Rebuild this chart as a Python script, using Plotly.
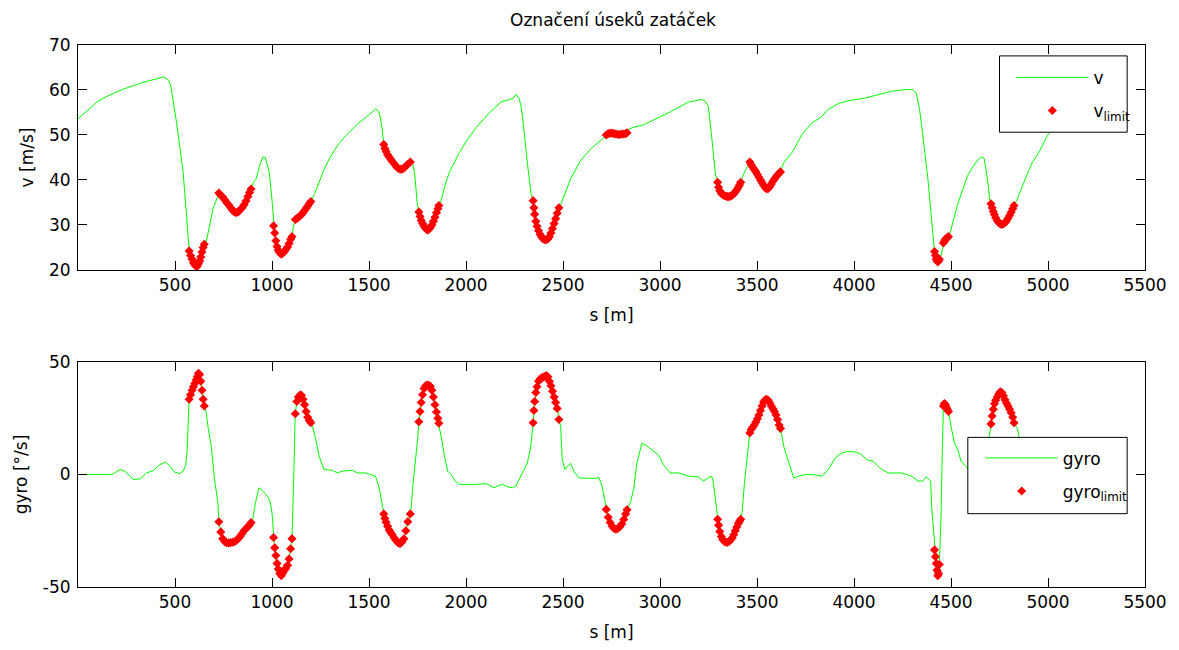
import plotly.graph_objects as go

# ---------------- data ----------------
# distance samples [m] and speed [m/s] for the green v line (outside limit segments)
s_v_line = [0, 50, 97, 149, 234, 337, 400, 440, 465, 477, 508, 542, 565,
            661, 696, 713,
            905, 918, 935, 952, 965, 975, 986, 1000,
            1110,
            1220, 1243, 1270, 1294, 1335, 1379, 1448, 1500, 1535, 1550, 1560, 1568,
            1721, 1735, 1748,
            1872, 1890, 1914, 1966, 2000, 2051, 2120, 2180, 2222, 2245, 2257, 2274, 2283, 2291, 2316, 2335,
            2490, 2539, 2590, 2650, 2700,
            2838, 2870, 2907, 2975, 3061, 3146, 3215, 3232, 3249, 3266, 3285,
            3428, 3450,
            3638, 3681, 3732, 3783, 3826, 3868, 3920, 3971, 4056, 4125, 4193, 4261, 4304, 4321, 4338,
            4355, 4381, 4398, 4408,
            4449,
            4492, 4535, 4586, 4629, 4654, 4671, 4688, 4700,
            4842, 4876, 4919, 4953, 4996, 5022, 5040]
v_line = [53.6, 55.6, 57.3, 58.6, 60.2, 61.7, 62.4, 62.9, 62.3, 61.2, 52.7, 41.7, 29.0,
          26.2, 33.6, 35.5,
          39.5, 40.2, 43.0, 45.1, 45.0, 43.5, 41.7, 35.5,
          29.5,
          37.0, 39.5, 42.5, 44.6, 47.5, 49.8, 52.7, 54.5, 55.8, 55.3, 53.5, 51.3,
          44.3, 41.7, 35.0,
          35.4, 38.5, 41.7, 46.1, 48.5, 51.6, 54.9, 57.3, 57.9, 58.2, 59.0, 58.1, 56.5, 54.2, 43.9, 37.0,
          34.7, 40.2, 44.3, 47.2, 49.0,
          51.3, 51.8, 52.1, 53.5, 55.3, 57.3, 57.9, 57.6, 56.4, 49.8, 41.5,
          41.0, 43.0,
          43.9, 46.1, 50.1, 52.7, 53.8, 55.7, 57.0, 57.6, 58.2, 59.0, 59.7, 60.1, 60.1, 59.3, 55.7,
          49.8, 40.2, 32.1, 26.5,
          23.3,
          27.7, 34.7, 41.0, 44.0, 45.1, 44.8, 40.2, 35.5,
          35.8, 39.5, 43.9, 46.1, 49.8, 51.3, 52.5]

# distance samples [m] and yaw rate [deg/s] for the green gyro line (outside limit segments)
s_g_line = [0, 60, 120, 174, 183, 217, 243, 265, 285, 320, 354, 388, 422, 451, 474, 499, 525, 542,
            555, 562, 567,
            661, 670, 687, 704, 721,
            901, 915, 932, 944, 969, 990, 1000,
            1106, 1109, 1112, 1115, 1117,
            1209, 1226, 1243, 1268, 1311, 1337, 1362, 1414, 1439, 1482, 1533, 1550, 1562, 1568,
            1718, 1726, 1735, 1744, 1752,
            1867, 1878, 1889, 1906, 1923, 1945, 1966, 2051, 2103, 2125, 2145, 2170, 2188, 2215, 2239,
            2257, 2291, 2316, 2334, 2341,
            2488, 2496, 2510, 2522, 2539, 2556, 2582, 2620, 2667, 2684, 2701, 2718,
            2847, 2864, 2881, 2907, 2924, 2958, 2992, 3018, 3052, 3095, 3146, 3197, 3223, 3249, 3266,
            3274, 3286,
            3423, 3437, 3451, 3458,
            3638, 3663, 3689, 3715, 3749, 3783, 3834, 3868, 3903, 3937, 3971, 4014, 4039, 4065, 4099,
            4133, 4176, 4244, 4296, 4330, 4355, 4372, 4395, 4401, 4410,
            4446, 4449, 4455,
            4500, 4518, 4535, 4552, 4577, 4603, 4620, 4650, 4680, 4697,
            4842, 4851, 4880, 4920, 4970, 5040]
g_line = [0, 0, -0.3, 0, 0.4, 2.2, 1.5, -0.5, -2.2, -1.9, 0.7, 1.8, 4.4, 5.6, 3.7, 1.0, 0.4, 1.5,
          4.0, 10.0, 22.0,
          27.5, 21.3, 12.5, -2.2, -12.5,
          -19.9, -12.5, -5.9, -6.6, -8.8, -11.8, -17.0,
          -20.0, -12.5, 0.0, 8.1, 18.0,
          21.3, 15.4, 8.1, 2.2, 1.9, 0.7, 1.5, 1.9, 0.7, 0.7, -0.7, -5.1, -11.0, -14.0,
          -14.0, -5.0, 2.2, 10.0, 16.9,
          19.9, 14.0, 8.1, 1.5, 0.0, -3.0, -4.4, -4.4, -4.0, -5.0, -5.9, -4.8, -4.4, -5.5, -5.9,
          -5.1, 0.7, 5.1, 12.5, 18.0,
          21.3, 6.6, 2.2, 3.7, 4.9, 1.5, -1.5, -1.6, -1.8, -1.2, -5.1, -12.5,
          -12.5, -6.6, 5.1, 14.0, 13.2, 11.0, 8.8, 4.4, 0.7, 0.7, -0.7, -1.0, -2.9, -1.5, -0.7,
          -2.9, -12.5,
          -16.9, -2.2, 8.1, 14.0,
          12.5, 5.1, -1.5, -0.7, 0.0, 0.0, -0.7, 2.2, 7.4, 9.6, 10.3, 9.9, 8.8, 6.6, 5.9,
          2.9, 0.7, 0.7, -0.7, -2.9, -2.9, -1.0, -2.9, -15.4, -25.0,
          -25.0, -16.9, 10.0,
          21.3, 14.0, 11.0, 5.9, 3.7, 0.7, -1.5, -4.0, 5.0, 17.0,
          20.6, 16.9, 8.0, 2.0, 0.0, -1.0]

# samples marked as curve sections (limit points): distance, speed, yaw rate
s_limit = [573, 580, 588, 595, 602, 609, 615, 621, 627, 633, 639, 645, 651,
           726, 736, 746, 756, 766, 776, 786, 796, 806, 816, 826, 836, 846, 856, 866, 876, 884, 892,
           1008, 1014, 1020, 1026, 1032, 1040, 1048, 1056, 1064, 1072, 1080, 1088, 1096, 1103,
           1120, 1128, 1136, 1144, 1152, 1160, 1168, 1176, 1184, 1192, 1200,
           1576, 1582, 1588, 1596, 1604, 1612, 1620, 1630, 1640, 1650, 1660, 1670, 1680, 1690, 1700, 1713,
           1757, 1763, 1769, 1776, 1784, 1792, 1800, 1808, 1816, 1824, 1832, 1840, 1848, 1855, 1860,
           2346, 2350, 2354, 2360, 2366, 2374, 2382, 2390, 2398, 2406, 2414, 2422, 2430, 2438, 2446,
           2454, 2462, 2470, 2479,
           2723, 2733, 2743, 2753, 2763, 2773, 2783, 2793, 2803, 2813, 2823, 2830,
           3297, 3302, 3308, 3316, 3324, 3332, 3340, 3348, 3356, 3364, 3372, 3380, 3388, 3396, 3404,
           3410, 3416,
           3463, 3470, 3478, 3486, 3494, 3502, 3510, 3518, 3526, 3534, 3542, 3550, 3558, 3566, 3574,
           3582, 3590, 3598, 3606, 3614, 3621,
           4415, 4420, 4424, 4428, 4432, 4436, 4440,
           4461, 4466, 4471, 4476, 4481, 4487,
           4706, 4712, 4718, 4724, 4730, 4738, 4746, 4754, 4762, 4770, 4778, 4786, 4794, 4802, 4810,
           4818, 4825]
v_limit = [24.2, 23.2, 22.4, 21.6, 21.1, 20.8, 20.8, 21.4, 22.0, 22.9, 24.0, 25.0, 25.7,
           37.1, 36.6, 36.2, 35.6, 35.0, 34.5, 33.9, 33.3, 32.9, 32.7, 32.9, 33.4, 33.8, 34.5, 35.3,
           36.3, 37.2, 38.0,
           29.8, 28.2, 26.5, 25.2, 24.4, 23.8, 23.5, 23.7, 24.1, 24.6, 25.1, 25.9, 26.8, 27.4,
           31.2, 31.4, 31.7, 32.0, 32.3, 32.7, 33.2, 33.7, 34.2, 34.7, 35.2,
           47.9, 47.0, 46.3, 45.6, 45.1, 44.6, 44.1, 43.6, 43.0, 42.6, 42.4, 42.4, 42.6, 43.1, 43.5, 44.0,
           32.9, 31.9, 31.0, 30.3, 29.7, 29.2, 28.9, 29.0, 29.4, 30.0, 30.8, 31.7, 32.7, 33.6, 34.3,
           35.4, 33.8, 32.4, 30.8, 29.7, 28.7, 27.9, 27.3, 26.9, 26.7, 26.7, 26.9, 27.4, 28.2, 29.2,
           30.3, 31.4, 32.6, 33.8,
           50.0, 50.3, 50.4, 50.4, 50.3, 50.2, 50.1, 50.1, 50.2, 50.2, 50.3, 50.5,
           39.5, 38.4, 37.6, 37.0, 36.7, 36.5, 36.4, 36.3, 36.3, 36.4, 36.6, 36.9, 37.3, 37.8, 38.4,
           38.9, 39.5,
           44.0, 43.4, 42.8, 42.3, 41.8, 41.2, 40.6, 40.0, 39.4, 38.8, 38.3, 38.0, 38.1, 38.5, 39.1,
           39.7, 40.2, 40.7, 41.1, 41.5, 41.8,
           24.1, 23.2, 22.4, 22.0, 21.8, 22.0, 22.4,
           26.0, 26.4, 26.8, 27.0, 27.2, 27.4,
           34.7, 33.8, 33.0, 32.3, 31.6, 31.0, 30.5, 30.2, 30.1, 30.2, 30.5, 30.9, 31.5, 32.1, 32.8,
           33.6, 34.3]
g_limit = [33.5, 35.5, 37.5, 39.0, 40.5, 42.0, 43.5, 45.0, 44.5, 41.5, 37.5, 33.5, 30.5,
           -21.0, -25.5, -28.5, -29.8, -30.3, -30.4, -30.3, -30.1, -29.9, -29.3, -28.5, -27.4, -26.2,
           -25.0, -24.0, -23.2, -22.4, -21.3,
           -28.0, -32.5, -36.0, -39.5, -42.0, -44.0, -45.0, -43.8, -42.5, -41.5, -40.3, -37.5, -33.0, -28.5,
           27.0, 32.5, 34.5, 35.3, 35.2, 33.5, 31.0, 28.0, 25.5, 24.0, 23.0,
           -17.5, -19.5, -21.2, -23.0, -24.7, -25.8, -26.8, -28.2, -29.3, -30.3, -30.8, -30.0, -28.6,
           -25.0, -21.0, -17.5,
           23.5, 28.0, 32.0, 35.5, 38.3, 39.5, 39.8, 39.7, 39.2, 37.5, 34.5, 31.0, 27.8, 25.0, 22.8,
           23.0, 28.5, 32.5, 36.5, 39.0, 41.5, 42.5, 43.0, 43.3, 43.6, 44.0, 43.5, 41.5, 39.5, 37.0,
           34.5, 32.0, 29.4, 24.5,
           -15.5, -19.0, -21.3, -23.0, -24.0, -24.3, -24.0, -23.2, -22.0, -20.0, -17.5, -15.7,
           -19.9, -22.5, -25.3, -27.5, -29.0, -29.8, -30.1, -30.1, -29.8, -29.1, -28.2, -26.8, -25.0,
           -23.3, -21.8, -20.8, -19.9,
           18.5, 20.0, 21.0, 22.0, 23.3, 24.8, 26.5, 28.5, 30.5, 32.3, 33.2, 33.5, 33.0, 31.8, 30.5,
           29.3, 28.0, 26.5, 24.5, 22.0, 20.5,
           -33.5, -36.5, -39.5, -42.5, -45.0, -44.0, -40.0,
           30.5, 31.6, 31.0, 30.0, 29.0, 28.0,
           22.5, 26.0, 29.0, 31.5, 33.0, 34.5, 35.8, 36.8, 36.5, 35.0, 33.3, 31.8, 30.5, 29.0, 27.5,
           25.5, 23.0]

x_ticks = [500, 1000, 1500, 2000, 2500, 3000, 3500, 4000, 4500, 5000, 5500]
v_ticks = [20, 30, 40, 50, 60, 70]
g_ticks = [-50, 0, 50]
g_tick_labels = ["-50", "0", "50"]

TITLE = "Označení úseků zatáček"

# ---------------- build full curves (line passes through limit samples) ----------------
def merged(s_a, y_a, s_b, y_b):
    pairs = sorted(zip(list(s_a) + list(s_b), list(y_a) + list(y_b)))
    return [p[0] for p in pairs], [p[1] for p in pairs]

s_v_all, v_all = merged(s_v_line, v_line, s_limit, v_limit)
s_g_all, g_all = merged(s_g_line, g_line, s_limit, g_limit)

FONT = "DejaVu Sans"
GREEN = "#00ff00"
RED = "#ff0000"

fig = go.Figure()
fig.add_trace(go.Scatter(x=s_v_all, y=v_all, mode="lines", name="v",
                         line=dict(color=GREEN, width=1), xaxis="x", yaxis="y",
                         legend="legend", legendgroup="a"))
fig.add_trace(go.Scatter(x=s_limit, y=v_limit, mode="markers", name="v<sub>limit</sub>",
                         marker=dict(color=RED, symbol="diamond", size=7, line=dict(width=0)),
                         xaxis="x", yaxis="y", legend="legend", legendgroup="b"))
fig.add_trace(go.Scatter(x=s_g_all, y=g_all, mode="lines", name="gyro",
                         line=dict(color=GREEN, width=1), xaxis="x2", yaxis="y2",
                         legend="legend2", legendgroup="c"))
fig.add_trace(go.Scatter(x=s_limit, y=g_limit, mode="markers", name="gyro<sub>limit</sub>",
                         marker=dict(color=RED, symbol="diamond", size=7, line=dict(width=0)),
                         xaxis="x2", yaxis="y2", legend="legend2", legendgroup="d"))

# page has an 8 px body margin: figure starts at page (8, 8)
OFF = 8
W, H = 1179 - OFF, 650 - OFF
L, R, T = 78 - OFF, 1179 - OFF - 1148, 45 - OFF
B = H - (592 - OFF)
pw, ph = W - L - R, H - T - B


def px2paper_x(px):
    return (px - OFF - L) / pw


def px2paper_y(py):
    return (H - B - (py - OFF)) / ph


axis_common = dict(showline=True, linecolor="black", linewidth=1, mirror="ticks",
                   ticks="inside", ticklen=9, tickcolor="black", tickwidth=1,
                   showgrid=False, zeroline=False,
                   tickfont=dict(family=FONT, size=17, color="black"),
                   title_font=dict(family=FONT, size=17, color="black"))

top_dom = [px2paper_y(272), 1.0]
bot_dom = [0.0, px2paper_y(365)]

fig.update_layout(
    width=W, height=H,
    margin=dict(l=L, r=R, t=T, b=B),
    paper_bgcolor="white", plot_bgcolor="white",
    font=dict(family=FONT, size=17, color="black"),
    title=dict(text=TITLE, x=(613 - OFF) / W, xanchor="center",
               y=1 - (20 - OFF) / H, yanchor="middle",
               font=dict(family=FONT, size=17, color="black")),
    xaxis=dict(domain=[0, 1], range=[0, 5500], tickvals=x_ticks, anchor="y",
               title=dict(text="s [m]", standoff=14), **axis_common),
    yaxis=dict(domain=top_dom, range=[20, 70], tickvals=v_ticks, anchor="x",
               ticklabelstandoff=3,
               title=dict(text="v [m/s]", standoff=10), **axis_common),
    xaxis2=dict(domain=[0, 1], range=[0, 5500], tickvals=x_ticks, anchor="y2",
                title=dict(text="s [m]", standoff=14), **axis_common),
    yaxis2=dict(domain=bot_dom, range=[-50, 50], tickvals=g_ticks, ticktext=g_tick_labels,
                anchor="x2", ticklabelstandoff=3,
                title=dict(text="gyro [°/s]", standoff=10), **axis_common),
    legend=dict(x=px2paper_x(1021), y=px2paper_y(60), xanchor="left", yanchor="top",
                bgcolor="rgba(0,0,0,0)", borderwidth=0, itemwidth=72,
                traceorder="grouped", tracegroupgap=8,
                font=dict(family=FONT, size=17, color="black")),
    legend2=dict(x=px2paper_x(990), y=px2paper_y(444), xanchor="left", yanchor="top",
                 bgcolor="rgba(0,0,0,0)", borderwidth=0, itemwidth=72,
                 traceorder="grouped", tracegroupgap=8,
                 font=dict(family=FONT, size=17, color="black")),
    shapes=[
        dict(type="rect", xref="paper", yref="paper", layer="above",
             x0=px2paper_x(1009), x1=px2paper_x(1138), y0=px2paper_y(133), y1=px2paper_y(56),
             line=dict(color="black", width=1), fillcolor="white"),
        dict(type="rect", xref="paper", yref="paper", layer="above",
             x0=px2paper_x(977), x1=px2paper_x(1138), y0=px2paper_y(518), y1=px2paper_y(441),
             line=dict(color="black", width=1), fillcolor="white"),
    ],
)

fig.write_html("out.html")
